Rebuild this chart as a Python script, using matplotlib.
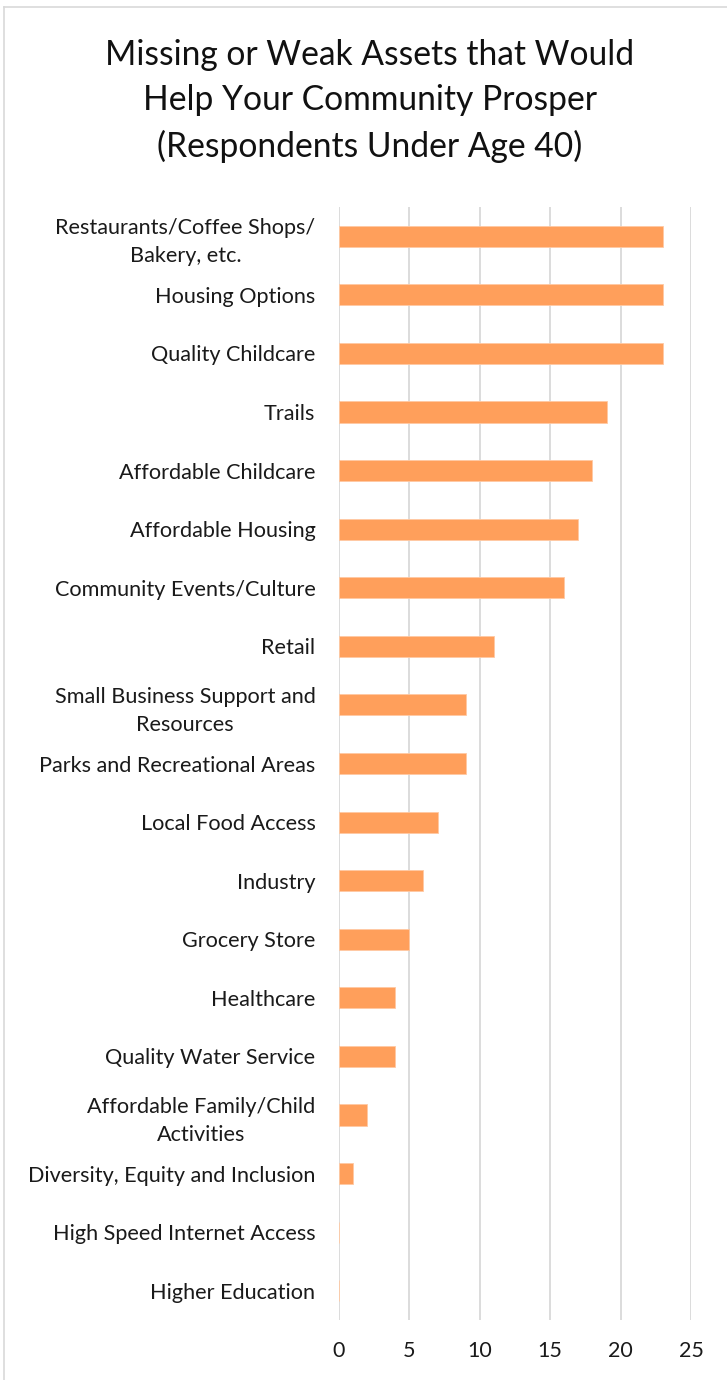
import matplotlib
matplotlib.use("Agg")
import matplotlib.pyplot as plt
from matplotlib.lines import Line2D

categories = [
    "Restaurants/Coffee Shops/\nBakery, etc.",
    "Housing Options",
    "Quality Childcare",
    "Trails",
    "Affordable Childcare",
    "Affordable Housing",
    "Community Events/Culture",
    "Retail",
    "Small Business Support and\nResources",
    "Parks and Recreational Areas",
    "Local Food Access",
    "Industry",
    "Grocery Store",
    "Healthcare",
    "Quality Water Service",
    "Affordable Family/Child\nActivities",
    "Diversity, Equity and Inclusion",
    "High Speed Internet Access",
    "Higher Education",
]
counts = [23, 23, 23, 19, 18, 17, 16, 11, 9, 9, 7, 6, 5, 4, 4, 2, 1, 0, 0]
x_ticks = [0, 5, 10, 15, 20, 25]

title = "Missing or Weak Assets that Would\nHelp Your Community Prosper\n(Respondents Under Age 40)"

plt.rcParams["font.family"] = ["Lato", "DejaVu Sans"]

W, H = 727, 1380
fig = plt.figure(figsize=(W / 100, H / 100), dpi=100)

# axes placement in pixel terms
left, right = 339, 691
top, bottom = 207, 1320
ax = fig.add_axes([left / W, 1 - bottom / H, (right - left) / W, (bottom - top) / H])

ypos = list(range(len(categories)))
ax.barh(ypos, counts, height=0.36, color="#FF9F5B", edgecolor="#FFC9A3", linewidth=0.6, zorder=3)
ax.set_ylim(len(categories) - 0.5, -0.5)
ax.set_xlim(0, 25)
ax.set_xticks(x_ticks)
ax.set_xticklabels([str(t) for t in x_ticks], fontsize=15.5, color="#1a1a1a")
ax.set_yticks(ypos)
ax.set_yticklabels(categories, fontsize=15.6, color="#1a1a1a", multialignment="center", linespacing=1.5)
ax.tick_params(axis="both", length=0)
ax.tick_params(axis="y", pad=17)
ax.tick_params(axis="x", pad=15)
ax.grid(axis="x", color="#D9D9D9", linewidth=1.3, zorder=0)
for s in ax.spines.values():
    s.set_visible(False)

fig.text(370 / W, 1 - 101 / H, title, ha="center", va="center", fontsize=24.2,
         color="#111111", linespacing=1.5)

# chart-area frame
fig.add_artist(Line2D([4 / W, 4 / W], [0, 1 - 7 / H], color="#D9D9D9", linewidth=1.2))
fig.add_artist(Line2D([4 / W, 1], [1 - 7 / H, 1 - 7 / H], color="#D9D9D9", linewidth=1.2))

fig.savefig("out.png", dpi=100, facecolor="white")
